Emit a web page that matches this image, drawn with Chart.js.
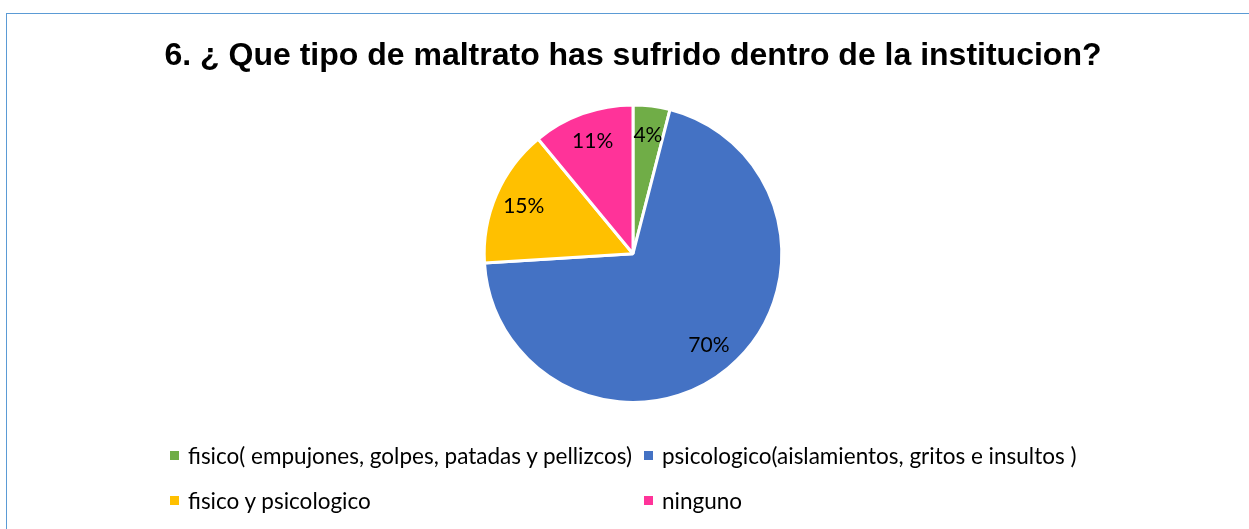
<!DOCTYPE html>
<html lang="es">
<head>
  <meta charset="UTF-8" />
  <title>Tipo de maltrato</title>
  <script src="https://cdn.jsdelivr.net/npm/chart.js@4.4.0/dist/chart.umd.min.js"></script>
  <style>
    * { box-sizing: border-box; margin: 0; padding: 0; }
    html, body { width: 1249px; height: 529px; background: #fff; overflow: hidden; }
    .frame {
      position: absolute;
      left: 6px; top: 13px; right: 0; bottom: 0;
      border-left: 1px solid #5b9bd5;
      border-top: 1px solid #5b9bd5;
    }
    .chart-wrap { position: absolute; left: 0; top: 0; width: 1249px; height: 529px; }
    .legend {
      position: absolute;
      left: 170px; top: 441px;
      display: grid;
      grid-template-columns: 474px 474px;
      row-gap: 17px;
      font-family: Lato, "Open Sans", sans-serif;
      font-size: 22.5px;
      color: #000;
    }
    .legend-item { display: flex; align-items: center; height: 28px; white-space: nowrap; }
    .legend-box { width: 9px; height: 9px; margin-right: 9px; flex: none; }
  </style>
</head>
<body>
  <div class="frame"></div>
  <div class="chart-wrap"><canvas id="pie"></canvas></div>
  <div class="legend" id="legend"></div>

  <script>
    const titleText = '6. ¿ Que tipo de maltrato has sufrido dentro de la institucion?';
    const categories = [
      'fisico( empujones, golpes, patadas y pellizcos)',
      'psicologico(aislamientos, gritos e insultos )',
      'fisico y psicologico',
      'ninguno'
    ];
    const percentages = [4, 70, 15, 11];
    const sliceColors = ['#70ad47', '#4472c4', '#ffc000', '#ff3399'];

    // etiquetas de porcentaje dentro de cada sector
    const sliceLabels = {
      id: 'sliceLabels',
      afterDatasetsDraw(chart) {
        const ctx = chart.ctx;
        const meta = chart.getDatasetMeta(0);
        ctx.save();
        ctx.font = '21px Lato, "Open Sans", sans-serif';
        ctx.fillStyle = '#000';
        ctx.textAlign = 'center';
        ctx.textBaseline = 'middle';
        meta.data.forEach((arc, i) => {
          const p = arc.getProps(['x', 'y', 'startAngle', 'endAngle', 'outerRadius'], true);
          const mid = (p.startAngle + p.endAngle) / 2;
          const r = p.outerRadius * 0.8;
          ctx.fillText(percentages[i] + '%', p.x + Math.cos(mid) * r, p.y + Math.sin(mid) * r);
        });
        ctx.restore();
      }
    };

    const chart = new Chart(document.getElementById('pie'), {
      type: 'pie',
      data: {
        labels: categories,
        datasets: [{
          data: percentages,
          backgroundColor: sliceColors,
          borderColor: '#ffffff',
          borderWidth: 3
        }]
      },
      options: {
        responsive: true,
        maintainAspectRatio: false,
        animation: false,
        layout: { padding: { top: 0, bottom: 125, left: 17 } },
        plugins: {
          legend: { display: false },
          tooltip: { enabled: false },
          title: {
            display: true,
            text: titleText,
            color: '#000',
            font: { family: '"Liberation Sans", Arial, sans-serif', size: 32, weight: 'bold' },
            padding: { top: 37, bottom: 28 }
          }
        }
      },
      plugins: [sliceLabels]
    });

    // leyenda en dos columnas
    const legend = document.getElementById('legend');
    categories.forEach((name, i) => {
      const item = document.createElement('div');
      item.className = 'legend-item';
      item.innerHTML = `<span class="legend-box" style="background:${sliceColors[i]}"></span><span>${name}</span>`;
      legend.appendChild(item);
    });
  </script>
</body>
</html>
